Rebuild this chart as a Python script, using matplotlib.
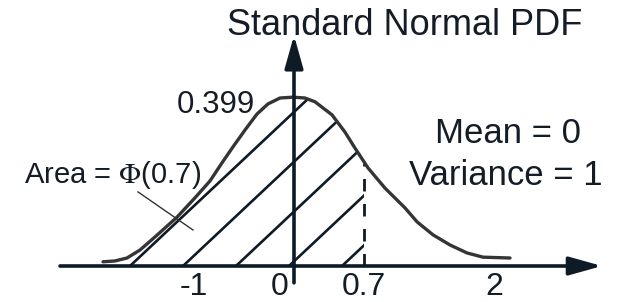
import numpy as np
import matplotlib
matplotlib.use('Agg')
import matplotlib.pyplot as plt
from matplotlib.patches import Polygon

plt.rcParams['font.family'] = ['Liberation Sans', 'DejaVu Sans']
plt.rcParams['mathtext.fontset'] = 'stix'

# ---- data ----
title = "Standard Normal PDF"
curve_x = [-1.91, -1.79, -1.67, -1.54, -1.39, -1.17, -0.99, -0.84, -0.72, -0.61,
           -0.49, -0.37, -0.26, -0.14, -0.01, 0.11, 0.21, 0.38, 0.51, 0.61,
           0.74, 0.91, 1.11, 1.23, 1.39, 1.56, 1.73, 1.89, 2.16]
curve_y = [0.010, 0.012, 0.019, 0.038, 0.069, 0.116, 0.162, 0.202, 0.245, 0.283,
           0.323, 0.361, 0.385, 0.399, 0.401, 0.399, 0.390, 0.359, 0.318, 0.280,
           0.233, 0.185, 0.138, 0.105, 0.074, 0.050, 0.031, 0.021, 0.019]
tick_values = [-1, 0, 0.7, 2]
tick_labels = ["-1", "0", "0.7", "2"]
cutoff = 0.7
peak_label = "0.399"
mean_text = "Mean = 0"
var_text = "Variance = 1"
area_text = r"Area = $\Phi$(0.7)"

# ---- style ----
axc = '#0e1a26'
curvec = '#353535'
txtc = '#141c26'

fig = plt.figure(figsize=(6.19, 3.02), dpi=100)
ax = fig.add_axes([0, 0, 1, 1])
ax.set_xlim(-2.94, 3.25)
ax.set_ylim(-0.0855, 0.6318)
ax.axis('off')

cx = np.array(curve_x)
cy = np.array(curve_y)

# hatch region under the curve left of the cutoff
y_cut = np.interp(cutoff, cx, cy)
mask = cx < cutoff
poly_x = list(cx[mask]) + [cutoff, cutoff, cx[0]]
poly_y = list(cy[mask]) + [y_cut, 0, 0]
clip = Polygon(np.column_stack([poly_x, poly_y]), closed=True,
               facecolor='none', edgecolor='none', transform=ax.transData)
ax.add_patch(clip)

hatch_start = -1.64
hatch_step = 0.53
hatch_slope = 0.223
for k in range(5):
    s = hatch_start + k * hatch_step
    ln, = ax.plot([s, s + 2.2], [0, hatch_slope * 2.2], color=axc, lw=1.9,
                  solid_capstyle='butt')
    ln.set_clip_path(clip)

# dashed cutoff line
ax.plot([cutoff, cutoff], [0, y_cut], color=axc, lw=2.0, dashes=(4.5, 4.5))

# curve
ax.plot(cx, cy, color=curvec, lw=2.4, solid_joinstyle='round',
        solid_capstyle='round', zorder=4)

# axes with arrows
ax.annotate('', xy=(3.08, 0), xytext=(-2.34, 0),
            arrowprops=dict(arrowstyle='-|>,head_length=1.0,head_width=0.28',
                            lw=2.6, color=axc, mutation_scale=20,
                            shrinkA=0, shrinkB=0), zorder=5)
ax.annotate('', xy=(0, 0.548), xytext=(0, -0.040),
            arrowprops=dict(arrowstyle='-|>,head_length=1.0,head_width=0.28',
                            lw=2.6, color=axc, mutation_scale=20,
                            shrinkA=0, shrinkB=0), zorder=5)

# tick labels
for v, lab in zip(tick_values, tick_labels):
    xo = -0.14 if v == 0 else 0
    ax.text(v + xo, -0.0689, lab, ha='center', va='baseline', fontsize=23,
            color=txtc)

# texts
ax.text(1.11, 0.5487, title, ha='center', va='baseline', fontsize=26, color=txtc)
ax.text(-0.78, 0.3634, peak_label, ha='center', va='baseline', fontsize=22.5,
        color=txtc)
ax.text(2.14, 0.292, mean_text, ha='center', va='baseline', fontsize=25, color=txtc)
ax.text(2.12, 0.1924, var_text, ha='center', va='baseline', fontsize=25, color=txtc)
ax.text(-1.81, 0.197, area_text, ha='center', va='baseline', fontsize=21, color=txtc)
ax.plot([-1.56, -1.01], [0.176, 0.0855], color='#333333', lw=1.0)

fig.savefig('out.png', dpi=100)
